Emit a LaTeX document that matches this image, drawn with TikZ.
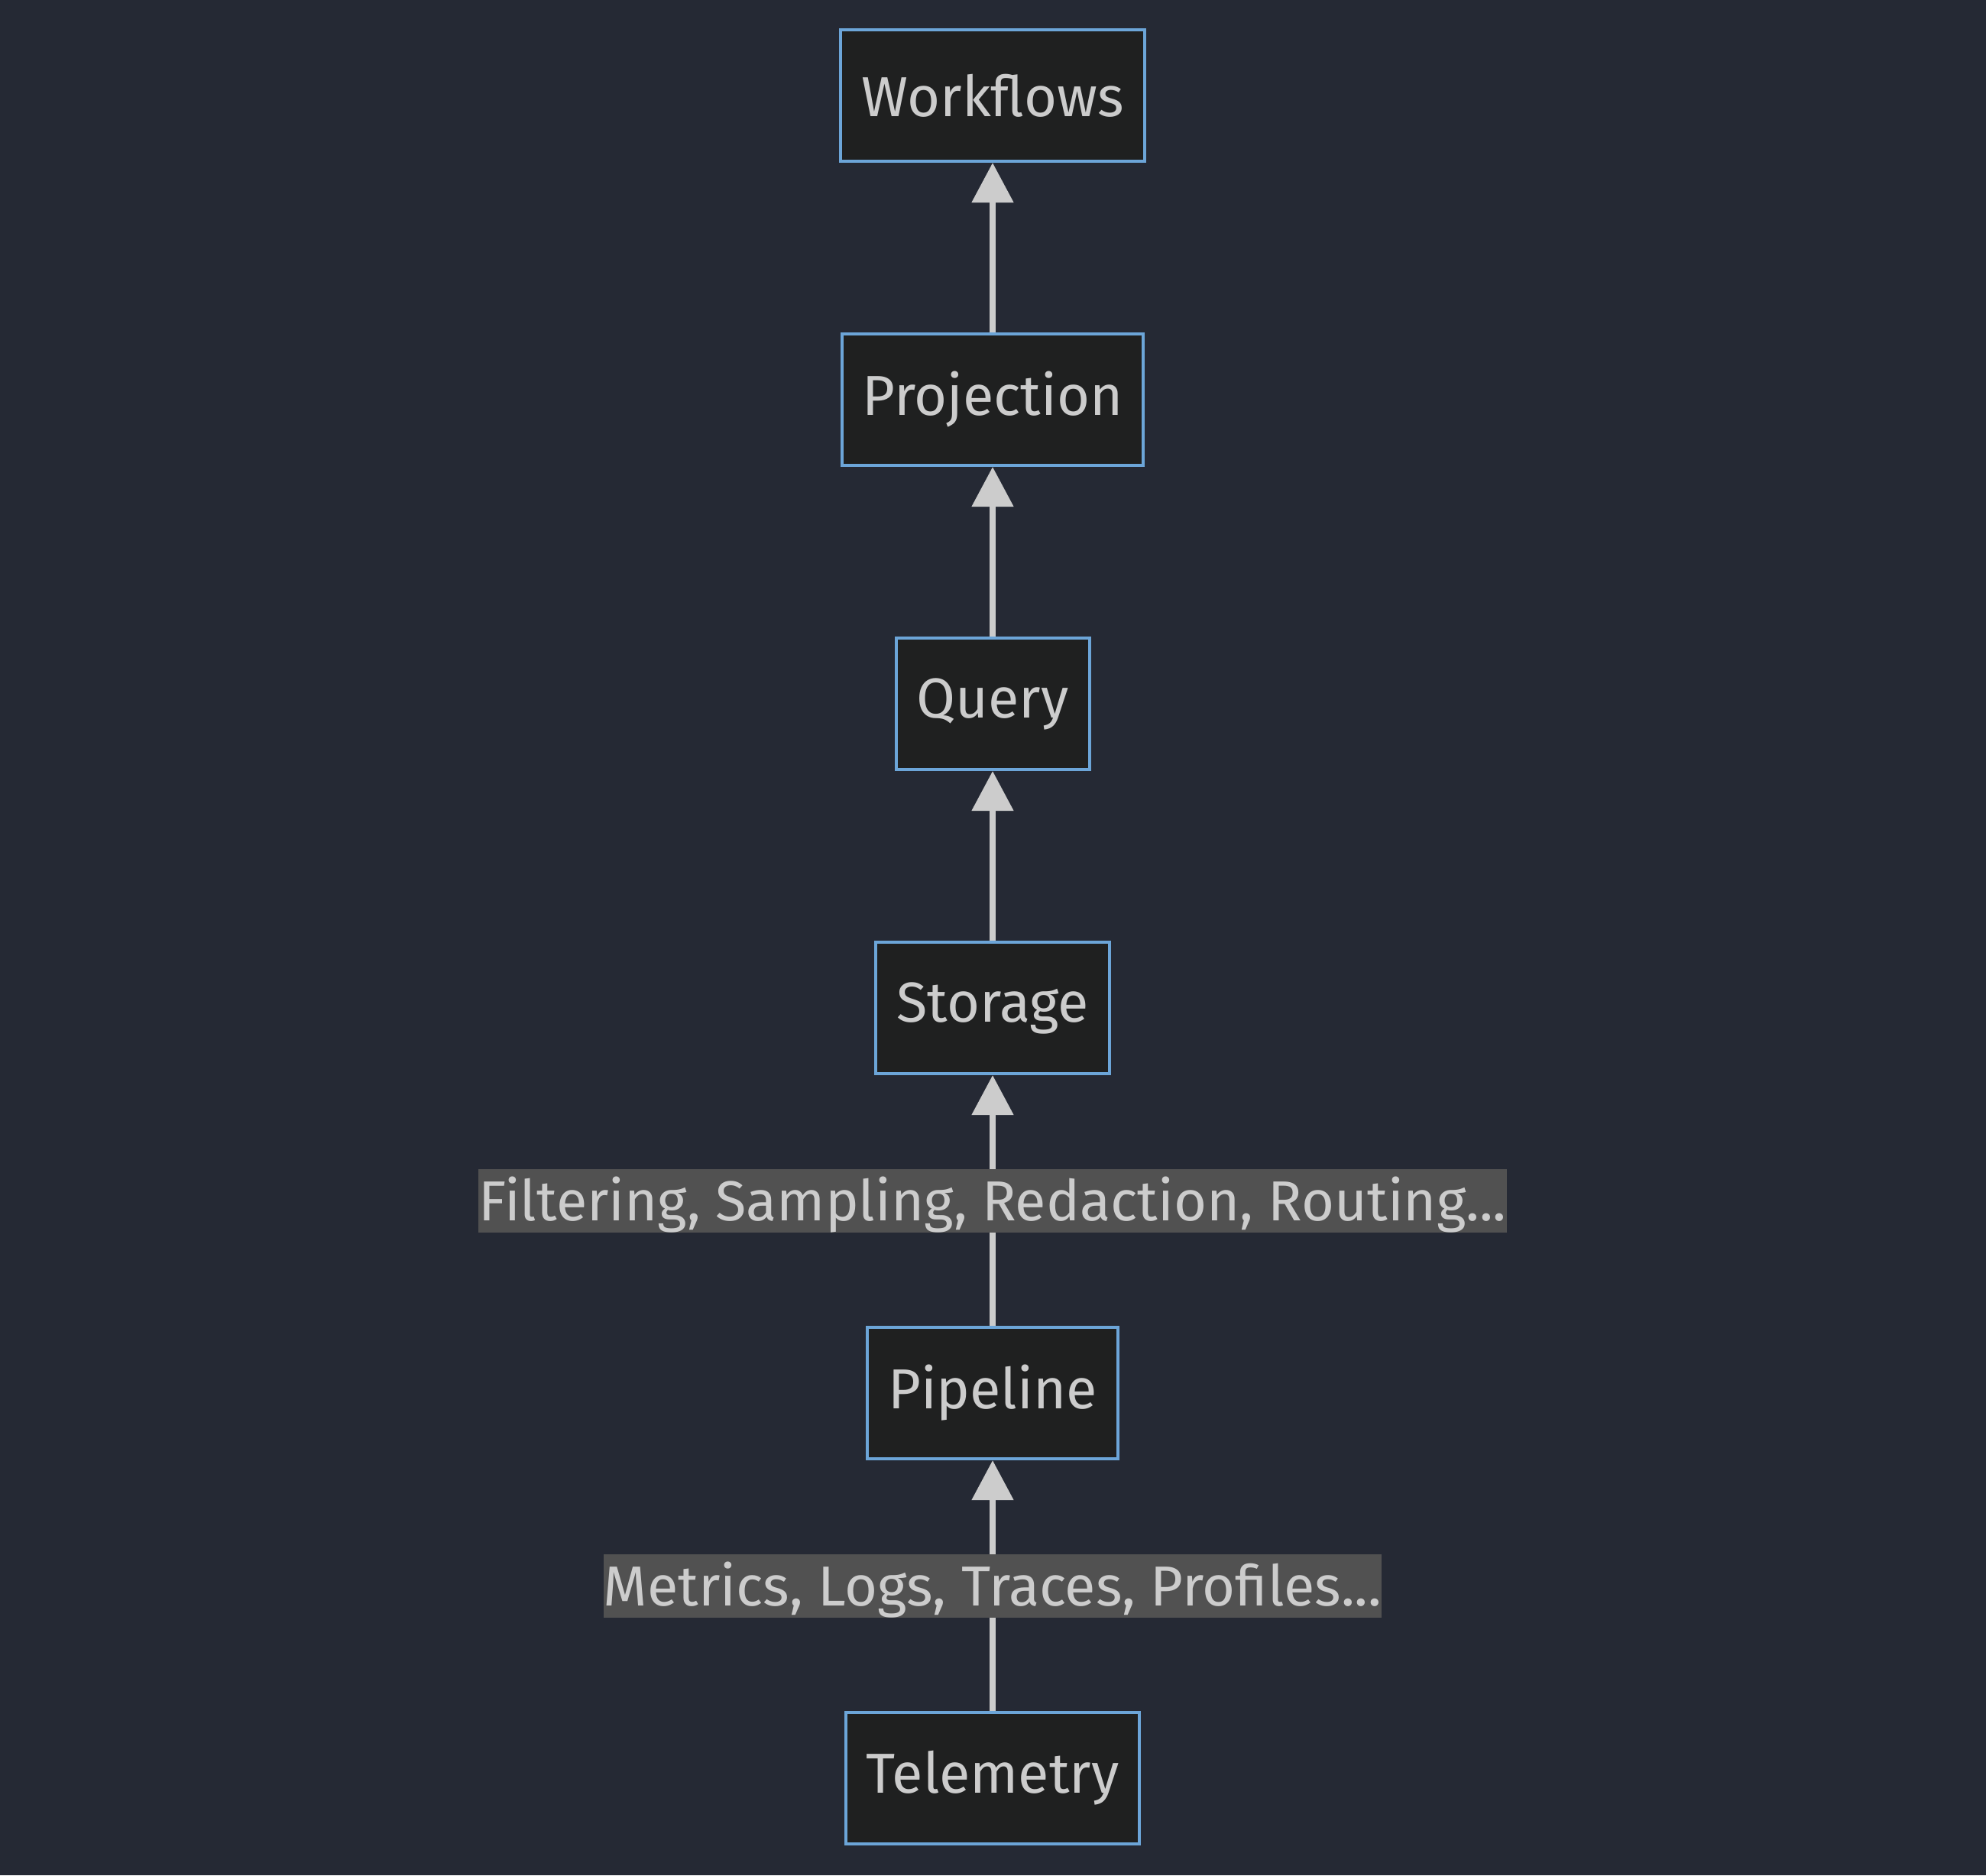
\documentclass[tikz,border=0pt]{standalone}
\usepackage{fontspec}
\setmainfont{Fira Sans}
\usetikzlibrary{positioning,arrows.meta}

\definecolor{pagebg}{HTML}{252934}
\definecolor{boxfill}{HTML}{1F2020}
\definecolor{boxline}{HTML}{6CA5D8}
\definecolor{textgray}{HTML}{CCCCCC}
\definecolor{labelbg}{HTML}{515151}

\begin{document}
\begin{tikzpicture}[node distance=2.22cm]
				\tikzstyle{stage}=[draw=boxline,line width=0.04cm,fill=boxfill,text=textgray,
				minimum height=1.72cm,inner xsep=0.27cm,font=\fontsize{21}{25}\selectfont]
				\tikzstyle{flow}=[draw=textgray,line width=0.08cm,
				-{Triangle[length=0.52cm,width=0.53cm]}]
				\tikzstyle{flowlabel}=[fill=labelbg,text=textgray,inner xsep=0pt,inner ysep=0pt,
				text height=0.68cm,text depth=0.15cm,font=\fontsize{21}{25}\selectfont]
				% background and page size
				\fill[pagebg] (0,0) rectangle (25.99,-24.54);
				\useasboundingbox (0,0) rectangle (25.99,-24.54);
				% stages, bottom to top
				\node[stage] (telemetry) at (12.99,-23.27) {Telemetry};
				\node[stage,above=3.28cm of telemetry] (pipeline) {Pipeline};
				\node[stage,above=3.28cm of pipeline] (storage) {Storage};
				\node[stage,above=of storage] (query) {Query};
				\node[stage,above=of query] (projection) {Projection};
				\node[stage,above=of projection] (workflows) {Workflows};
				% data flow
				\draw[flow] (telemetry) -- node[flowlabel] {Metrics, Logs, Traces, Profiles...} (pipeline);
				\draw[flow] (pipeline) -- node[flowlabel] {Filtering, Sampling, Redaction, Routing...} (storage);
				\draw[flow] (storage) -- (query);
				\draw[flow] (query) -- (projection);
				\draw[flow] (projection) -- (workflows);
\end{tikzpicture}
\end{document}
